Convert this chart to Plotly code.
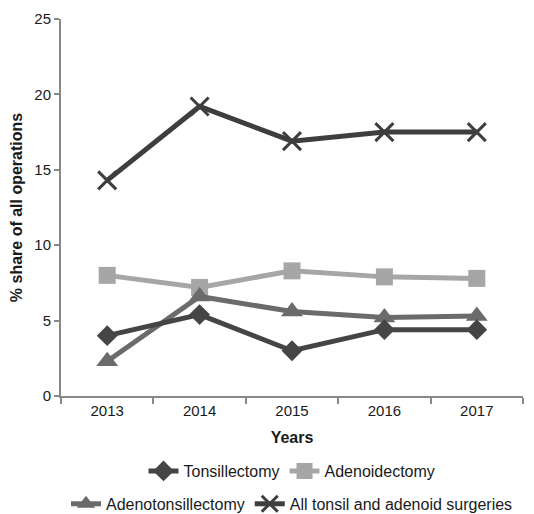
import plotly.graph_objects as go

years = ["2013", "2014", "2015", "2016", "2017"]
tonsillectomy = [4.0, 5.4, 3.0, 4.4, 4.4]
adenoidectomy = [8.0, 7.2, 8.3, 7.9, 7.8]
adenotonsillectomy = [2.3, 6.6, 5.6, 5.2, 5.3]
all_surgeries = [14.3, 19.2, 16.9, 17.5, 17.5]

fig = go.Figure()
fig.add_trace(go.Scatter(x=years, y=all_surgeries, name="All tonsil and adenoid surgeries",
                         mode="lines+markers", line=dict(color="#3e3e3e", width=5),
                         marker=dict(symbol="x-thin", size=18, line=dict(color="#3e3e3e", width=3)),
                         legend="legend2", legendrank=2))
fig.add_trace(go.Scatter(x=years, y=adenoidectomy, name="Adenoidectomy",
                         mode="lines+markers", line=dict(color="#a6a6a6", width=5),
                         marker=dict(symbol="square", size=17, color="#a6a6a6"),
                         legend="legend", legendrank=2))
fig.add_trace(go.Scatter(x=years, y=adenotonsillectomy, name="Adenotonsillectomy",
                         mode="lines+markers", line=dict(color="#6b6b6b", width=5),
                         marker=dict(symbol="triangle-up", size=19, color="#6b6b6b"),
                         legend="legend2", legendrank=1))
fig.add_trace(go.Scatter(x=years, y=tonsillectomy, name="Tonsillectomy",
                         mode="lines+markers", line=dict(color="#454545", width=5),
                         marker=dict(symbol="diamond", size=16, color="#454545"),
                         legend="legend", legendrank=1))

font = dict(family="Liberation Sans, Arial, sans-serif", size=15, color="#1a1a1a")
fig.update_layout(
    width=526, height=506,
    margin=dict(l=53, r=11, t=11, b=118),
    paper_bgcolor="white", plot_bgcolor="white",
    font=font,
    legend=dict(orientation="h", x=0.5, xanchor="center", yref="container", y=0.085, yanchor="middle",
                font=dict(size=16), itemwidth=30, traceorder="normal"),
    legend2=dict(orientation="h", x=0.5, xanchor="center", yref="container", y=0.02, yanchor="middle",
                 font=dict(size=16), itemwidth=30, traceorder="normal"),
    xaxis=dict(
        title=dict(text="<b>Years</b>", font=dict(size=16), standoff=14),
        automargin=False,
        range=[-0.5, 4.5], tickson="boundaries", ticks="outside", ticklen=6,
        tickcolor="#888888", tickwidth=2,
        showline=True, linecolor="#888888", linewidth=2, showgrid=False,
        tickfont=dict(size=15),
    ),
    yaxis=dict(
        title=dict(text="<b>% share of all operations</b>", font=dict(size=16), standoff=8),
        automargin=False,
        range=[0, 25], dtick=5, ticks="outside", ticklen=5,
        tickcolor="#888888", tickwidth=2,
        showline=True, linecolor="#888888", linewidth=2, showgrid=False, zeroline=False,
        tickfont=dict(size=15),
    ),
)

fig.write_html("out.html")
